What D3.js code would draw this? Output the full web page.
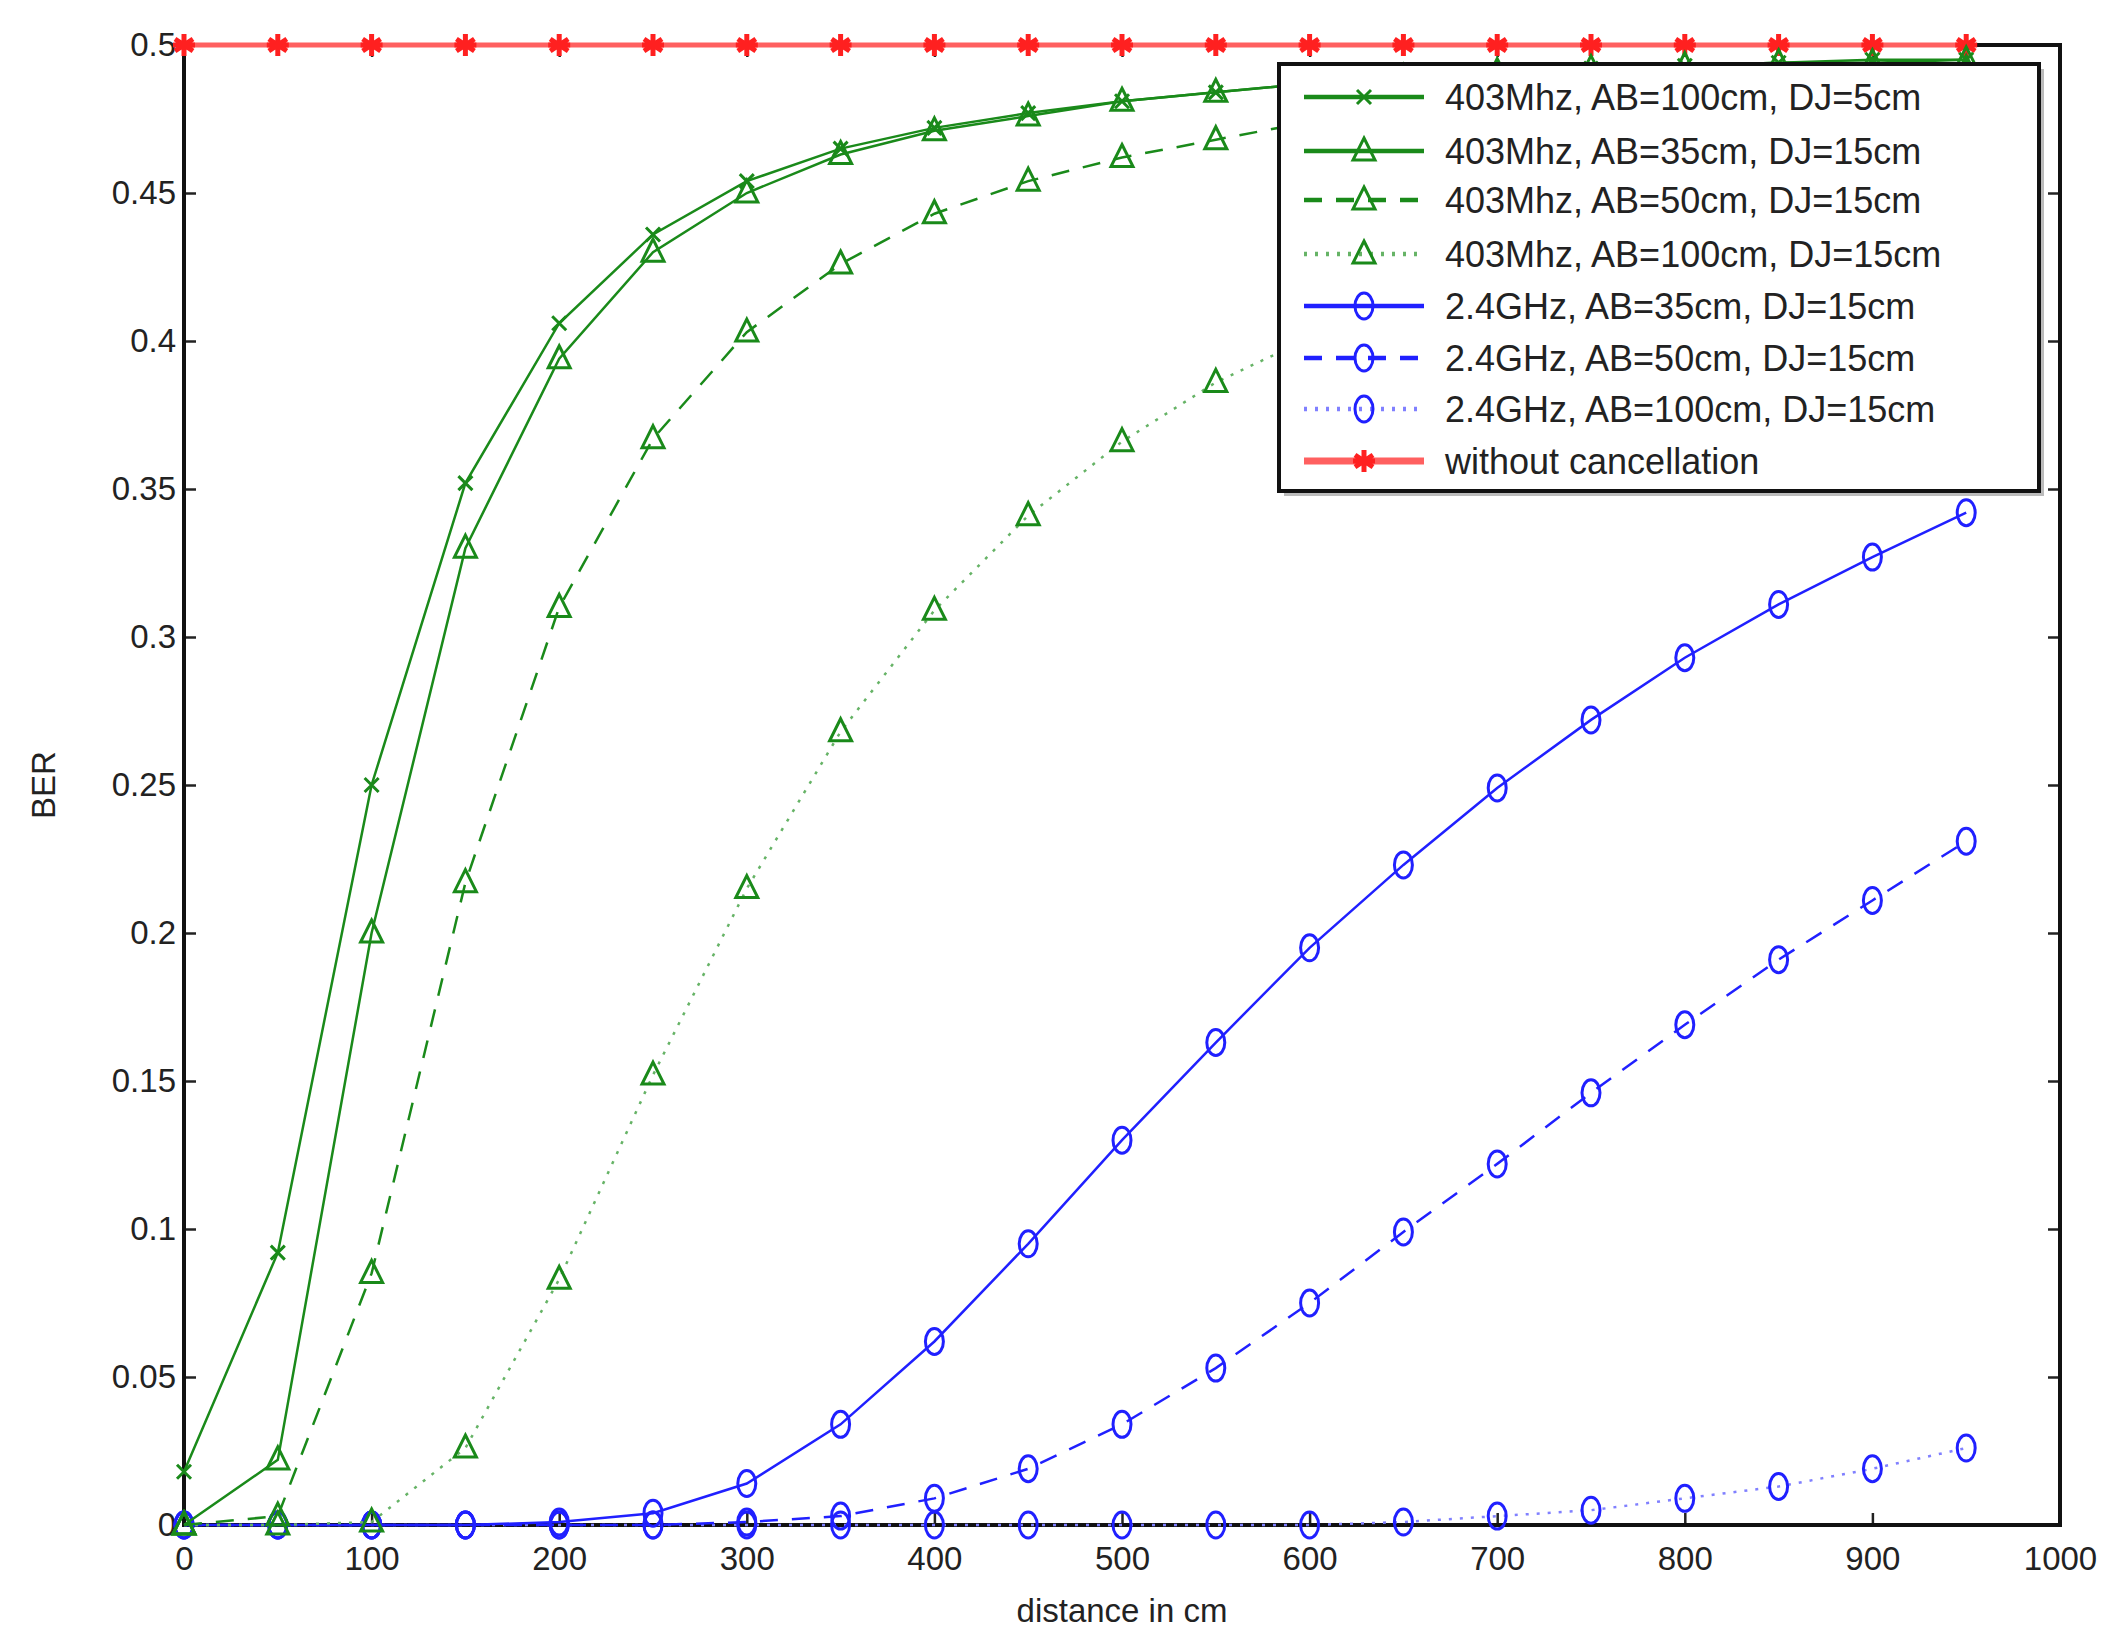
<!DOCTYPE html>
<html><head><meta charset="utf-8">
<script src="https://cdn.jsdelivr.net/npm/d3@7"></script>
<style>body{margin:0;background:#fff}svg{display:block}text{font-family:"Liberation Sans",Arial,sans-serif;fill:#222}</style>
</head><body><svg id="c" width="2128" height="1640"></svg>
<script>
const xs = [0,50,100,150,200,250,300,350,400,450,500,550,600,650,700,750,800,850,900,950];
const s1 = [0.018,0.092,0.25,0.352,0.406,0.436,0.454,0.465,0.472,0.477,0.481,0.484,0.487,0.489,0.491,0.492,0.493,0.494,0.495,0.495];
const s2 = [0,0.022,0.2,0.33,0.394,0.43,0.45,0.463,0.471,0.476,0.481,0.484,0.487,0.489,0.491,0.492,0.493,0.494,0.494,0.495];
const s3 = [0,0.003,0.085,0.217,0.31,0.367,0.403,0.426,0.443,0.454,0.462,0.468,0.474,0.478,0.482,0.485,0.487,0.489,0.491,0.492];
const s4 = [0,0,0.001,0.026,0.083,0.152,0.215,0.268,0.309,0.341,0.366,0.386,0.401,0.414,0.425,0.434,0.441,0.447,0.452,0.456];
const b1 = [0,0,0,0,0.001,0.004,0.014,0.034,0.062,0.095,0.13,0.163,0.195,0.223,0.249,0.272,0.293,0.311,0.327,0.342];
const b2 = [0,0,0,0,0,0,0.001,0.003,0.009,0.019,0.034,0.053,0.075,0.099,0.122,0.146,0.169,0.191,0.211,0.231];
const b3 = [0,0,0,0,0,0,0,0,0,0,0,0,0,0.001,0.003,0.005,0.009,0.013,0.019,0.026];
const r0 = [0.5,0.5,0.5,0.5,0.5,0.5,0.5,0.5,0.5,0.5,0.5,0.5,0.5,0.5,0.5,0.5,0.5,0.5,0.5,0.5];
const labels = ["403Mhz, AB=100cm, DJ=5cm","403Mhz, AB=35cm, DJ=15cm","403Mhz, AB=50cm, DJ=15cm","403Mhz, AB=100cm, DJ=15cm","2.4GHz, AB=35cm, DJ=15cm","2.4GHz, AB=50cm, DJ=15cm","2.4GHz, AB=100cm, DJ=15cm","without cancellation"];
const xTicks = [0,100,200,300,400,500,600,700,800,900,1000];
const yTicks = [0,0.05,0.1,0.15,0.2,0.25,0.3,0.35,0.4,0.45,0.5];

const G="#1a8a1a", B="#2020ff", R="#ff2020";
const series = [
 {v:s1,c:G,d:null,m:"x",w:2.5},
 {v:s2,c:G,d:null,m:"tri",w:2.5},
 {v:s3,c:G,d:"18,14",m:"tri",w:2.5},
 {v:s4,c:"#66b366",d:"3,8",m:"tri",w:2.5,mc:G},
 {v:b1,c:B,d:null,m:"o",w:2.5},
 {v:b2,c:B,d:"18,14",m:"o",w:2.5},
 {v:b3,c:"#8080ff",d:"3,8",m:"o",w:2.5,mc:B},
 {v:r0,c:"#ff6060",d:null,m:"star",w:5,mc:R}
];
const L=184,Rt=2060,T=45,Bt=1525;
const svg=d3.select("#c");
const x=d3.scaleLinear().domain([0,1000]).range([L,Rt]);
const y=d3.scaleLinear().domain([0,0.5]).range([Bt,T]);
const fmt=d=>d===0?"0":String(d);
// axes
svg.append("g").attr("transform",`translate(0,${Bt})`).call(d3.axisBottom(x).tickValues(xTicks).tickFormat(fmt).tickSize(-12).tickPadding(22))
 .call(g=>{g.select(".domain").remove();g.selectAll("line").attr("stroke","#222").attr("stroke-width",2.5);g.selectAll("text").attr("font-size",33);});
svg.append("g").attr("transform",`translate(0,${T})`).call(d3.axisTop(x).tickValues(xTicks).tickSize(-12).tickFormat(""))
 .call(g=>{g.select(".domain").remove();g.selectAll("line").attr("stroke","#222").attr("stroke-width",2.5);});
svg.append("g").attr("transform",`translate(${L},0)`).call(d3.axisLeft(y).tickValues(yTicks).tickFormat(fmt).tickSize(-12).tickPadding(8))
 .call(g=>{g.select(".domain").remove();g.selectAll("line").attr("stroke","#222").attr("stroke-width",2.5);g.selectAll("text").attr("font-size",33);});
svg.append("g").attr("transform",`translate(${Rt},0)`).call(d3.axisRight(y).tickValues(yTicks).tickSize(-12).tickFormat(""))
 .call(g=>{g.select(".domain").remove();g.selectAll("line").attr("stroke","#222").attr("stroke-width",2.5);});
svg.append("rect").attr("x",L).attr("y",T).attr("width",Rt-L).attr("height",Bt-T).attr("fill","none").attr("stroke","#111").attr("stroke-width",4);
svg.append("text").attr("x",(L+Rt)/2).attr("y",1622).attr("text-anchor","middle").attr("font-size",33).text("distance in cm");
svg.append("text").attr("transform",`translate(55,${(T+Bt)/2}) rotate(-90)`).attr("text-anchor","middle").attr("font-size",33).text("BER");

function marker(g,type,cx,cy,col){
  const s=g.append("g").attr("transform",`translate(${cx},${cy})`).attr("fill","none").attr("stroke",col).attr("stroke-width",3);
  if(type==="x"){s.append("path").attr("d","M-7,-7L7,7M-7,7L7,-7");}
  else if(type==="tri"){s.append("path").attr("d","M0,-13L11,9L-11,9Z");}
  else if(type==="o"){s.append("ellipse").attr("rx",9).attr("ry",13);}
  else if(type==="star"){s.attr("stroke-width",5);s.append("path").attr("d","M0,-11V11M-9,-6L9,6M-9,6L9,-6M-11,0H11");}
}
const line=d3.line().x((d,i)=>x(xs[i])).y(d=>y(d));
const order=[7,6,5,4,3,2,1,0];
order.forEach(k=>{
  const s=series[k];
  svg.append("path").datum(s.v).attr("d",line).attr("fill","none").attr("stroke",s.c).attr("stroke-width",s.w).attr("stroke-dasharray",s.d);
  const g=svg.append("g");
  s.v.forEach((v,i)=>marker(g,s.m,x(xs[i]),y(v),s.mc||s.c));
});
// legend
const lx=1279,ly=64,lw=760,lh=427;
svg.append("rect").attr("x",lx+5).attr("y",ly+5).attr("width",lw).attr("height",lh).attr("fill","#bbb");
svg.append("rect").attr("x",lx).attr("y",ly).attr("width",lw).attr("height",lh).attr("fill","#fff").attr("stroke","#111").attr("stroke-width",4);
const ry=[97,151,200,254,306,358,409,461];
series.forEach((s,i)=>{
  const yy=ry[i];
  svg.append("line").attr("x1",lx+25).attr("x2",lx+145).attr("y1",yy).attr("y2",yy).attr("stroke",s.c).attr("stroke-width",s.w+2).attr("stroke-dasharray",s.d);
  marker(svg,s.m,lx+85,yy,s.mc||s.c);
  svg.append("text").attr("x",lx+166).attr("y",yy+13).attr("font-size",36).text(labels[i]);
});
</script></body></html>
